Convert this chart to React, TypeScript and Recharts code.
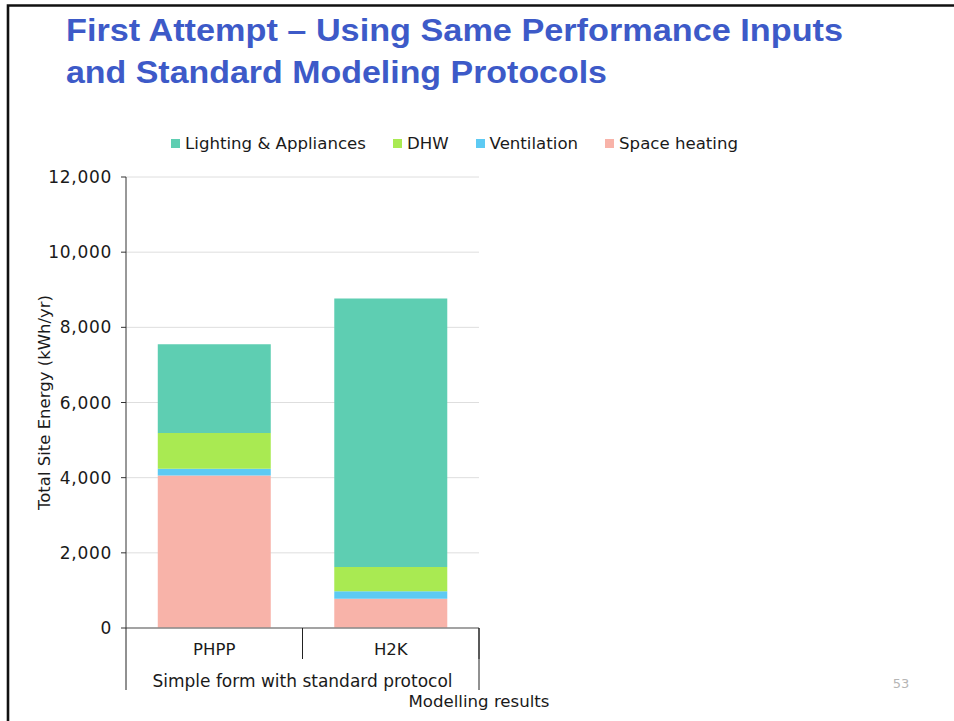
import React from 'react';
import { BarChart, Bar, XAxis, YAxis, CartesianGrid, Legend, Label } from 'recharts';

// ---- data ----
const categories = ['PHPP', 'H2K'];
const groupLabel = 'Simple form with standard protocol';
const spaceHeating = [4060, 780];
const ventilation = [180, 200];
const dhw = [950, 640];
const lightingAppliances = [2360, 7150];
const yTicks = [0, 2000, 4000, 6000, 8000, 10000, 12000];
const titleLines = ['First Attempt \u2013 Using Same Performance Inputs', 'and Standard Modeling Protocols'];
const yAxisTitle = 'Total Site Energy (kWh/yr)';
const xAxisTitle = 'Modelling results';
const pageNumber = '53';

// stacking order: bottom to top
const series = [
  { key: 'spaceHeating', name: 'Space heating', color: '#F8B3A9', values: spaceHeating },
  { key: 'ventilation', name: 'Ventilation', color: '#5DCAF3', values: ventilation },
  { key: 'dhw', name: 'DHW', color: '#A9EA52', values: dhw },
  { key: 'lightingAppliances', name: 'Lighting & Appliances', color: '#5ECEB2', values: lightingAppliances },
];

const data = categories.map((name, i) => {
  const row: Record<string, any> = { name, group: groupLabel };
  series.forEach((s) => {
    row[s.key] = s.values[i];
  });
  return row;
});

// ---- layout ----
const W = 954;
const H = 721;
const MARGIN = { top: 177, right: 475, bottom: 31, left: 46 };
const Y_AXIS_W = 80;
const CAT_AXIS_H = 31;
const GROUP_AXIS_H = 31;
const PLOT_W = W - MARGIN.left - MARGIN.right - Y_AXIS_W;
const FONT = '"DejaVu Sans", sans-serif';

const CategoryTick = (props: any) => {
  const { x, y, payload } = props;
  const count = props.visibleTicksCount || categories.length;
  const half = (props.width || PLOT_W) / count / 2;
  return (
    <g>
      <line x1={x + half} x2={x + half} y1={y} y2={y + CAT_AXIS_H} stroke="#222" strokeWidth={1} />
      <text x={x} y={y + 27} textAnchor="middle" fontSize={16.5} fill="#1a1a1a" fontFamily={FONT}>
        {payload.value}
      </text>
    </g>
  );
};

const GroupTick = (props: any) => {
  const { x, y, payload } = props;
  const half = (props.width || PLOT_W) / 2;
  return (
    <g>
      <line x1={x - half} x2={x - half} y1={y - CAT_AXIS_H} y2={y + GROUP_AXIS_H} stroke="#222" strokeWidth={1} />
      <line x1={x + half} x2={x + half} y1={y - CAT_AXIS_H} y2={y + GROUP_AXIS_H} stroke="#222" strokeWidth={1} />
      <text x={x} y={y + 28} textAnchor="middle" fontSize={17} fill="#1a1a1a" fontFamily={FONT}>
        {payload.value}
      </text>
    </g>
  );
};

const LegendContent = () => {
  const items = [...series].reverse();
  return (
    <div
      style={{
        display: 'flex',
        justifyContent: 'center',
        alignItems: 'center',
        fontFamily: FONT,
        fontSize: 16.6,
        color: '#1a1a1a',
        whiteSpace: 'nowrap',
      }}
    >
      {items.map((s, i) => (
        <div key={s.key} style={{ display: 'flex', alignItems: 'center', marginLeft: i === 0 ? 0 : 27 }}>
          <span style={{ display: 'inline-block', width: 9, height: 9, background: s.color, marginRight: 5 }} />
          <span>{s.name}</span>
        </div>
      ))}
    </div>
  );
};

export default function App() {
  return (
    <div style={{ position: 'absolute', left: 0, top: 0, width: W, height: H, background: '#fff', overflow: 'hidden' }}>
      <BarChart
        width={W}
        height={H}
        data={data}
        margin={MARGIN}
        barCategoryGap="18%"
        style={{ fontFamily: FONT }}
      >
        <CartesianGrid vertical={false} stroke="#dedede" strokeWidth={1} />
        <XAxis
          dataKey="name"
          height={CAT_AXIS_H}
          tickSize={0}
          tickMargin={0}
          tickLine={false}
          axisLine={{ stroke: '#8a8a8a', strokeWidth: 1.5 }}
          tick={<CategoryTick />}
          interval={0}
        />
        <XAxis
          xAxisId="group"
          dataKey="group"
          allowDuplicatedCategory={false}
          height={GROUP_AXIS_H}
          tickSize={0}
          tickMargin={0}
          tickLine={false}
          axisLine={false}
          tick={<GroupTick />}
          interval={0}
        >
          <Label
            content={(p: any) => {
              const vb = p.viewBox || {};
              return (
                <text
                  x={vb.x + vb.width}
                  y={vb.y + vb.height + 17}
                  textAnchor="middle"
                  fontSize={16.6}
                  fill="#1a1a1a"
                  fontFamily={FONT}
                >
                  {xAxisTitle}
                </text>
              );
            }}
          />
        </XAxis>
        <YAxis
          width={Y_AXIS_W}
          domain={[0, 12000]}
          ticks={yTicks}
          interval={0}
          tickSize={5}
          tickMargin={9}
          tickFormatter={(v: number) => v.toLocaleString('en-US')}
          tick={{ fontSize: 17, fill: '#1a1a1a', fontFamily: FONT, letterSpacing: 0.7 }}
          tickLine={{ stroke: '#333' }}
          axisLine={{ stroke: '#333', strokeWidth: 1 }}
        >
          <Label
            content={(p: any) => {
              const vb = p.viewBox || {};
              const cx = vb.x - 2;
              const cy = vb.y + vb.height / 2;
              return (
                <text
                  x={cx}
                  y={cy}
                  transform={`rotate(-90 ${cx} ${cy})`}
                  textAnchor="middle"
                  dominantBaseline="central"
                  fontSize={16.5}
                  fill="#1a1a1a"
                  fontFamily={FONT}
                >
                  {yAxisTitle}
                </text>
              );
            }}
          />
        </YAxis>
        <Legend
          layout="horizontal"
          verticalAlign="middle"
          align="center"
          content={<LegendContent />}
          wrapperStyle={{ top: 134, left: 0, width: 909, height: 22 }}
        />
        {series.map((s) => (
          <Bar key={s.key} dataKey={s.key} name={s.name} stackId="a" fill={s.color} isAnimationActive={false} />
        ))}
      </BarChart>
      <svg
        width={W}
        height={H}
        style={{ position: 'absolute', left: 0, top: 0, pointerEvents: 'none' }}
      >
        <path d={`M8 ${H} L8 5.5 L${W} 5.5`} fill="none" stroke="#111" strokeWidth={2.6} />
        <text
          x={66}
          y={41}
          fontSize={31}
          fontWeight="bold"
          fill="#3D5AC8"
          fontFamily='"Liberation Sans", Arial, sans-serif'
          textLength={777}
          lengthAdjust="spacingAndGlyphs"
        >
          {titleLines[0]}
        </text>
        <text
          x={66}
          y={83}
          fontSize={31}
          fontWeight="bold"
          fill="#3D5AC8"
          fontFamily='"Liberation Sans", Arial, sans-serif'
          textLength={541}
          lengthAdjust="spacingAndGlyphs"
        >
          {titleLines[1]}
        </text>
        <text x={901} y={688} textAnchor="middle" fontSize={13} fill="#b5b5b5" fontFamily={FONT}>
          {pageNumber}
        </text>
      </svg>
    </div>
  );
}
